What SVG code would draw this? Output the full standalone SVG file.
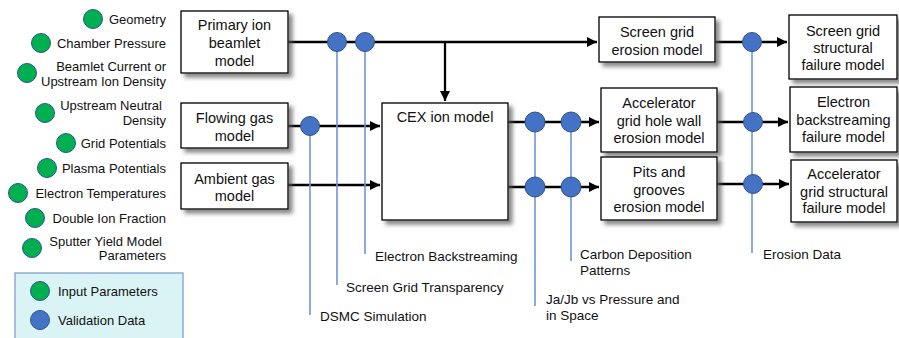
<svg xmlns="http://www.w3.org/2000/svg" width="899" height="338" viewBox="0 0 899 338">
<style>
.box{fill:#fff;stroke:#000;stroke-width:1.3;filter:url(#sh)}
.bt{font-family:"Liberation Sans",Arial,sans-serif;font-size:14.5px;fill:#111;text-anchor:middle;dominant-baseline:central}
.lt{font-family:"Liberation Sans",Arial,sans-serif;font-size:13px;fill:#111;text-anchor:end;dominant-baseline:central}
.vt{font-family:"Liberation Sans",Arial,sans-serif;font-size:13.5px;fill:#111;dominant-baseline:central}
.gt{font-family:"Liberation Sans",Arial,sans-serif;font-size:13px;fill:#111;dominant-baseline:central}
.gc{fill:#00B050;stroke:#2F528F;stroke-width:1}
.bc{fill:#4472C4;stroke:#2F528F;stroke-width:1}
.ln{stroke:#000;stroke-width:2.3;fill:none}
.bl{stroke:#6F95DA;stroke-width:1.6;fill:none}
</style>
<defs>
<filter id="sh" x="-20%" y="-20%" width="150%" height="150%">
<feDropShadow dx="4" dy="4" stdDeviation="2" flood-color="#555" flood-opacity="0.7"/>
</filter>
<marker id="ar" viewBox="0 0 10 10" refX="10" refY="5" markerWidth="4.5" markerHeight="4.5" orient="auto" markerUnits="strokeWidth">
<path d="M0,0 L10,5 L0,10 Z" fill="#000"/>
</marker>
</defs>

<g id="inputs">
<circle class="gc" cx="93" cy="19" r="9.5"/><text class="lt" x="166" y="19">Geometry</text>
<circle class="gc" cx="41" cy="43" r="9.5"/><text class="lt" x="166" y="43">Chamber Pressure</text>
<circle class="gc" cx="27" cy="73" r="9.5"/><text class="lt" x="166" y="66.5">Beamlet Current or</text><text class="lt" x="166" y="81">Upstream Ion Density</text>
<circle class="gc" cx="45" cy="113" r="9.5"/><text class="lt" x="162" y="105.5">Upstream Neutral</text><text class="lt" x="166" y="120">Density</text>
<circle class="gc" cx="66" cy="143" r="9.5"/><text class="lt" x="166" y="143">Grid Potentials</text>
<circle class="gc" cx="47" cy="168" r="9.5"/><text class="lt" x="166" y="168">Plasma Potentials</text>
<circle class="gc" cx="18" cy="193" r="9.5"/><text class="lt" x="166" y="193">Electron Temperatures</text>
<circle class="gc" cx="35" cy="218" r="9.5"/><text class="lt" x="166" y="218">Double Ion Fraction</text>
<circle class="gc" cx="32" cy="248" r="9.5"/><text class="lt" x="162" y="241">Sputter Yield Model</text><text class="lt" x="166" y="255.5">Parameters</text>
</g>

<g id="legend">
<rect x="15" y="273" width="168" height="80" fill="#DAF3F5" stroke="#7F9FCF" stroke-width="1.3"/>
<circle class="gc" cx="40" cy="291" r="9.5"/><text class="gt" x="58" y="291">Input Parameters</text>
<circle class="bc" cx="40" cy="320" r="9.5"/><text class="gt" x="58" y="320">Validation Data</text>
</g>

<g id="connectors">
<path class="ln" d="M288,42 H597" marker-end="url(#ar)"/>
<path class="ln" d="M445,42 V101" marker-end="url(#ar)"/>
<path class="ln" d="M288,126 H380" marker-end="url(#ar)"/>
<path class="ln" d="M288,185 H380" marker-end="url(#ar)"/>
<path class="ln" d="M508,122 H599" marker-end="url(#ar)"/>
<path class="ln" d="M508,187 H599" marker-end="url(#ar)"/>
<path class="ln" d="M715,42 H787" marker-end="url(#ar)"/>
<path class="ln" d="M717,122 H788" marker-end="url(#ar)"/>
<path class="ln" d="M717,184 H789" marker-end="url(#ar)"/>
<path class="bl" d="M310,126 V315"/>
<path class="bl" d="M337,42 V285"/>
<path class="bl" d="M365,42 V254"/>
<path class="bl" d="M535,122 V306"/>
<path class="bl" d="M571,122 V261"/>
<path class="bl" d="M752,42 V253"/>
<circle class="bc" cx="310" cy="126" r="9.5"/>
<circle class="bc" cx="337" cy="42" r="9.5"/>
<circle class="bc" cx="365" cy="42" r="9.5"/>
<circle class="bc" cx="535" cy="122" r="10"/>
<circle class="bc" cx="571" cy="122" r="10"/>
<circle class="bc" cx="535" cy="187" r="10"/>
<circle class="bc" cx="571" cy="187" r="10"/>
<circle class="bc" cx="752" cy="42" r="9.5"/>
<circle class="bc" cx="753" cy="122" r="9.5"/>
<circle class="bc" cx="753" cy="184" r="9.5"/>
</g>

<g id="validation-labels">
<text class="vt" x="320" y="316">DSMC Simulation</text>
<text class="vt" x="346" y="287">Screen Grid Transparency</text>
<text class="vt" x="375" y="256">Electron Backstreaming</text>
<text class="vt" x="546" y="299">Ja/Jb vs Pressure and</text>
<text class="vt" x="546" y="315">in Space</text>
<text class="vt" x="580" y="254">Carbon Deposition</text>
<text class="vt" x="580" y="270">Patterns</text>
<text class="vt" x="763" y="254">Erosion Data</text>
</g>

<g id="primary-ion">
<rect class="box" x="181" y="11" width="107" height="62"/>
<text class="bt" x="234.5" y="25">Primary ion</text>
<text class="bt" x="234.5" y="43">beamlet</text>
<text class="bt" x="234.5" y="61">model</text>
</g>
<g id="flowing-gas">
<rect class="box" x="181" y="103" width="107" height="45"/>
<text class="bt" x="234.5" y="118">Flowing gas</text>
<text class="bt" x="234.5" y="136">model</text>
</g>
<g id="ambient-gas">
<rect class="box" x="181" y="163" width="107" height="46"/>
<text class="bt" x="234.5" y="179">Ambient gas</text>
<text class="bt" x="234.5" y="196">model</text>
</g>
<g id="cex">
<rect class="box" x="382" y="103" width="126" height="117"/>
<text class="bt" x="445" y="117">CEX ion model</text>
</g>
<g id="screen-erosion">
<rect class="box" x="599" y="17" width="116" height="45"/>
<text class="bt" x="657" y="32">Screen grid</text>
<text class="bt" x="657" y="50">erosion model</text>
</g>
<g id="accel-erosion">
<rect class="box" x="601" y="88" width="116" height="64"/>
<text class="bt" x="659" y="103">Accelerator</text>
<text class="bt" x="659" y="120.5">grid hole wall</text>
<text class="bt" x="659" y="138">erosion model</text>
</g>
<g id="pits">
<rect class="box" x="601" y="157" width="116" height="63"/>
<text class="bt" x="659" y="172">Pits and</text>
<text class="bt" x="659" y="189.5">grooves</text>
<text class="bt" x="659" y="207">erosion model</text>
</g>
<g id="screen-failure">
<rect class="box" x="789" y="15" width="108" height="64"/>
<text class="bt" x="843" y="31">Screen grid</text>
<text class="bt" x="843" y="48">structural</text>
<text class="bt" x="843" y="65">failure model</text>
</g>
<g id="eb-failure">
<rect class="box" x="790" y="87" width="107" height="65"/>
<text class="bt" x="843.5" y="102">Electron</text>
<text class="bt" x="843.5" y="119.5">backstreaming</text>
<text class="bt" x="843.5" y="137">failure model</text>
</g>
<g id="accel-failure">
<rect class="box" x="791" y="160" width="106" height="62"/>
<text class="bt" x="844" y="174">Accelerator</text>
<text class="bt" x="844" y="191.5">grid structural</text>
<text class="bt" x="844" y="208">failure model</text>
</g>
</svg>
